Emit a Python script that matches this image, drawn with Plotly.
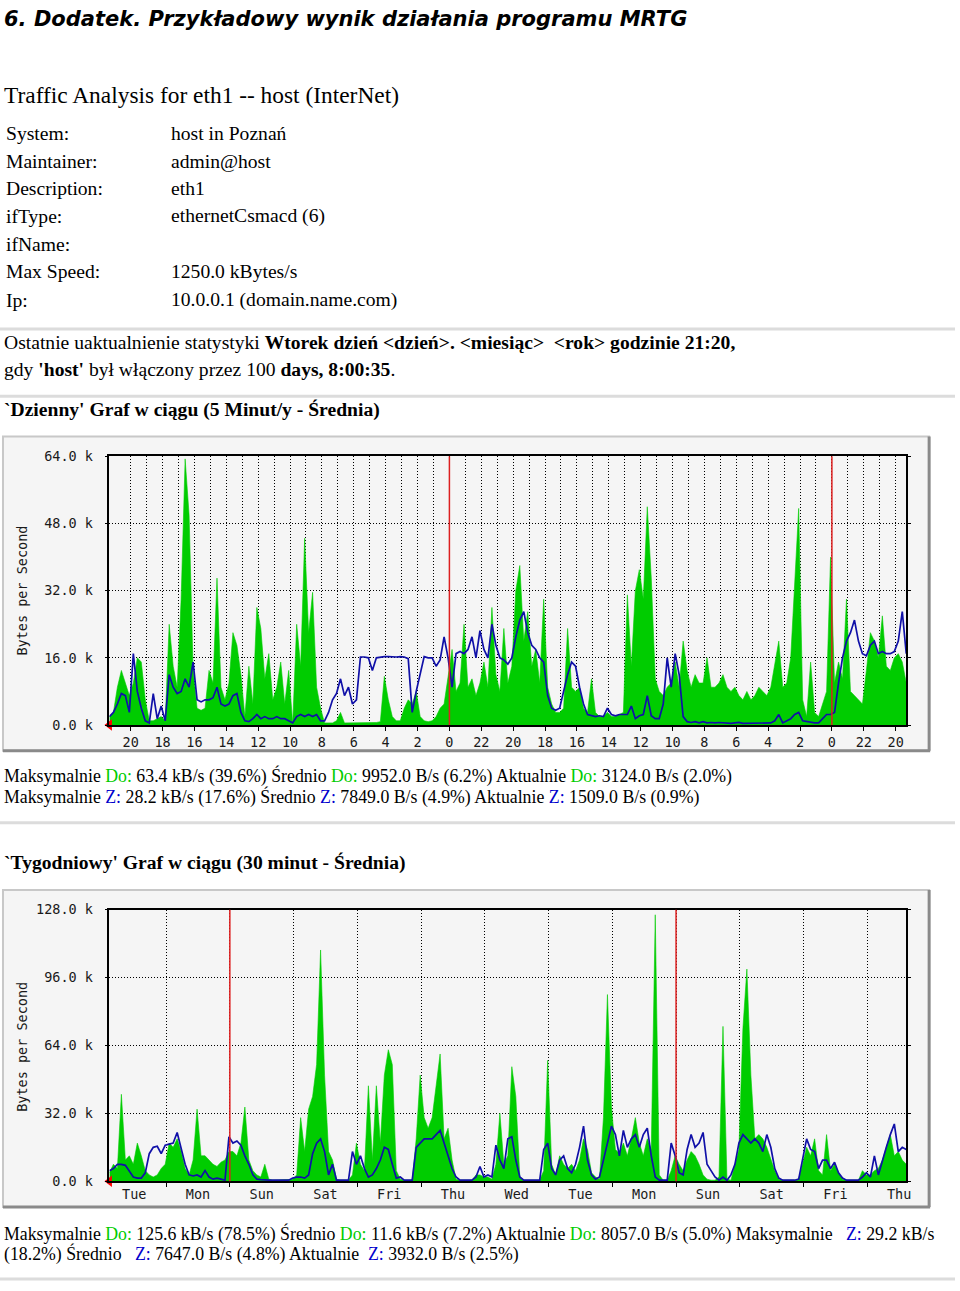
import plotly.graph_objects as go

# ---------------- data (kB/s) ----------------
# daily graph: one sample every 0.25 h, x = hours before 21:20
daily_in = [2, 3, 9, 13, 10, 7, 10, 16, 15, 6,
            1, 1, 1.5, 2, 1, 24, 14, 9, 30, 63.4,
            50, 13, 4, 3.5, 4, 13, 10, 35, 9, 6,
            10, 22, 19, 12, 2, 14, 5, 28, 23, 11,
            17, 6, 9, 15, 5, 13, 0.3, 24, 14, 44.5,
            22, 31.6, 9, 4, 0.5, 0.5, 0.5, 1, 3, 0.5,
            0.5, 0.5, 0.5, 0.5, 0.5, 0.5, 0.6, 0.6, 0.8, 11.6,
            6, 2, 1, 1, 4, 6, 5, 8, 2, 1,
            0.8, 1, 2, 4, 5, 12, 18, 8, 10, 24,
            9, 11, 7, 10, 15, 9, 28, 12, 8, 23,
            10, 14, 32, 38, 20, 27, 14, 18, 10, 30,
            9, 5, 3, 3, 4, 23, 9, 8, 9, 4,
            3, 11, 3, 2, 2, 3, 2, 2, 2.5, 3,
            31, 14, 32, 37, 30, 52, 35, 11, 8, 7,
            9, 10, 15, 9, 20, 13, 9, 12, 10, 10,
            16, 9, 9, 10, 12, 9, 8, 9, 7, 6,
            8, 6, 7, 9, 8, 7, 9, 15, 20, 9,
            10, 16, 35, 51.6, 6, 2, 15, 3, 2, 5,
            8, 40, 10, 15, 11, 30, 8, 7, 6, 5,
            13, 22, 20, 16, 26, 14, 13, 16, 17, 15,
            10]
daily_out = [2, 3, 5, 7.5, 7, 3, 17, 8, 4, 1,
             0.5, 7.5, 1.5, 4.5, 1, 12, 9, 7.5, 8, 11,
             9, 15, 6, 5.5, 6, 6, 6.5, 9, 5, 4.5,
             5, 7, 7.5, 3, 1, 0.8, 1.5, 2.5, 1.5, 2,
             1.5, 1.5, 2, 1.5, 1.5, 1, 0.5, 2, 2.5, 2,
             2.5, 2, 2.5, 1, 1, 3, 6, 7.5, 11, 7,
             9, 5, 6, 16.2, 16.2, 16, 13, 16, 16.2, 16.3,
             16.3, 16.2, 16.2, 16.3, 16.2, 15.8, 3, 8, 12, 16.3,
             16, 16, 14, 15.5, 21, 16, 9, 17, 17.5, 17,
             18, 21, 16, 22.5, 18, 16, 24, 19, 16, 15.5,
             14.5, 16, 21, 25, 27, 22, 19, 18, 16, 15,
             7, 4, 3.5, 4, 8, 12, 15, 14, 9, 5,
             2.5, 2.2, 2, 2.2, 2, 4, 2.5, 2.2, 2.5, 2.5,
             2.5, 4.5, 1.5, 2.2, 2.5, 7, 2.2, 1.5, 1.5, 5,
             16, 9, 17, 12, 2, 0.8, 0.6, 0.8, 0.5, 0.8,
             0.5, 0.6, 0.5, 0.6, 0.5, 0.5, 0.4, 0.5, 0.6, 0.4,
             0.4, 0.4, 0.5, 0.4, 0.4, 0.4, 0.5, 1, 2.5, 0.5,
             1, 1.5, 2.5, 3, 1, 0.8, 0.6, 0.5, 0.5, 1.5,
             2.5, 2.5, 3, 10, 16, 20, 22, 25, 20, 17,
             16.5, 19, 20, 17, 17.5, 17, 17, 17.5, 20, 27,
             17]
# weekly graph: one sample every 1.5 h, x = hours before Tue 21:20
weekly_in = [4, 8, 6, 41, 10, 12, 8, 18, 12, 5,
             3, 2, 3, 6, 8, 18, 16, 20, 14, 6,
             3, 10, 34, 12, 12, 10, 8, 7, 9, 10,
             14, 14, 12, 18, 35, 10, 5, 3, 2, 8,
             1, 0.5, 0.5, 0.5, 0.5, 0.8, 1, 3, 30, 14,
             34, 40, 55, 109, 50, 14, 10, 1, 0.5, 0.5,
             0.5, 3, 18, 8, 5, 45, 10, 45, 18, 50,
             62, 55, 5, 1, 0.5, 0.5, 0.5, 20, 50, 30,
             25, 30, 45, 60, 20, 25, 10, 1, 0.5, 0.5,
             0.5, 0.5, 3, 3, 2, 2, 1, 8, 32, 8,
             12, 54, 40, 2, 0.5, 0.5, 0.5, 0.5, 0.5, 5,
             57, 8, 3, 12, 8, 6, 8, 5, 10, 20,
             15, 4, 2, 1, 30, 88, 35, 15, 13, 18,
             12, 20, 30, 18, 12, 20, 15, 125.6, 3, 0.5,
             0.5, 5, 12, 8, 5, 10, 14, 12, 8, 3,
             1, 0.5, 0.5, 2, 73, 1, 0.5, 8, 15, 72,
             100, 50, 20, 22, 20, 16, 10, 5, 1, 0.5,
             0.5, 0.5, 0.5, 1, 8, 16, 12, 20, 5, 3,
             22, 5, 8, 4, 1, 0.5, 0.5, 0.5, 0.5, 5,
             3, 3, 5, 6, 10, 16, 22, 12, 14, 10,
             8]
weekly_out = [5, 6, 8, 8, 7.5, 5, 2, 1.5, 1.5, 4,
              13, 16, 16.5, 13, 17, 17.5, 18, 23, 16, 8,
              3, 2.5, 3, 2, 5, 2, 1, 1.5, 1, 0.5,
              21, 18, 19, 17, 12, 8, 3, 1, 0.8, 0.5,
              0.5, 0.5, 0.5, 0.5, 0.5, 0.5, 1.5, 2, 2, 1.5,
              3, 13, 18, 20, 14, 3, 8, 0.5, 0.5, 0.5,
              0.5, 14, 8, 12, 6, 2, 3, 6, 10, 16,
              15, 8, 1.5, 2, 0.5, 0.5, 0.5, 16, 18, 20,
              20, 20, 22, 24, 18, 12, 6, 2, 0.5, 0.5,
              0.5, 0.5, 2, 7, 2, 3, 2, 17, 10, 6,
              20, 21, 10, 2, 0.5, 0.5, 0.5, 0.5, 0.5, 15,
              18, 6, 3, 10, 12, 6, 4, 8, 16, 26,
              10, 3, 1, 2, 10, 18, 26, 22, 12, 24,
              16, 20, 22, 16, 22, 25, 12, 2, 0.5, 0.5,
              0.5, 18, 12, 4, 3, 15, 22, 16, 18, 23,
              8, 5, 2, 0.5, 2, 0.5, 3, 8, 18, 22,
              20, 18, 20, 18, 14, 22, 16, 6, 1.5, 0.5,
              0.5, 0.5, 0.5, 1, 10, 20, 15, 14, 6, 10,
              10, 6, 9, 4, 1.5, 0.5, 0.5, 0.5, 0.5, 2,
              4, 2, 12, 3, 10, 16, 22, 27, 14, 16,
              15]

daily_step_h = 0.25
weekly_step_h = 1.5
now_h = 21 + 20 / 60  # 21:20

daily_tick_labels = ["20", "18", "16", "14", "12", "10", "8", "6", "4", "2", "0",
                     "22", "20", "18", "16", "14", "12", "10", "8", "6", "4", "2", "0",
                     "22", "20"]
daily_y_ticks = [0, 16, 32, 48, 64]
daily_y_labels = ["0.0 k", "16.0 k", "32.0 k", "48.0 k", "64.0 k"]
weekly_day_labels = ["Tue", "Mon", "Sun", "Sat", "Fri", "Thu", "Wed",
                     "Tue", "Mon", "Sun", "Sat", "Fri", "Thu"]
weekly_y_ticks = [0, 32, 64, 96, 128]
weekly_y_labels = ["0.0 k", "32.0 k", "64.0 k", "96.0 k", "128.0 k"]

info_labels = ["System:", "Maintainer:", "Description:", "ifType:", "ifName:", "Max Speed:", "Ip:"]
info_values = ["host in Poznań", "admin@host", "eth1", "ethernetCsmacd (6)", "",
               "1250.0 kBytes/s", "10.0.0.1 (domain.name.com)"]

# ---------------- derived axis positions ----------------
daily_x = [i * daily_step_h for i in range(len(daily_in))]
weekly_x = [i * weekly_step_h for i in range(len(weekly_in))]
daily_tick_pos = [(now_h - 20) + 2 * k for k in range(len(daily_tick_labels))]
daily_minor_pos = [p + 1 for p in daily_tick_pos[:-1]]
daily_midnights = [now_h, now_h + 24]
weekly_grid_pos = [now_h + 24 * k for k in range(12)]
weekly_label_pos = [now_h - 12 + 24 * k for k in range(len(weekly_day_labels))]
weekly_week_marks = [now_h + 24, now_h + 24 * 8]

W, H = 960, 1291
def px(x):
    return x / W
def py(y):
    return 1 - y / H

GREEN = "#00cc00"
BLUE = "#1010a8"
RED = "#dd2020"
SERIF = "Liberation Serif"
MONO = "DejaVu Sans Mono"

fig = go.Figure()

# daily
fig.add_trace(go.Scatter(x=daily_x, y=daily_in, xaxis="x", yaxis="y", mode="lines",
                         fill="tozeroy", fillcolor=GREEN, line=dict(color=GREEN, width=0.6),
                         hoverinfo="skip", showlegend=False))
fig.add_trace(go.Scatter(x=daily_x, y=daily_out, xaxis="x", yaxis="y", mode="lines",
                         line=dict(color=BLUE, width=1.7), hoverinfo="skip", showlegend=False))
fig.add_trace(go.Scatter(x=[0], y=[0], xaxis="x", yaxis="y", mode="markers",
                         marker=dict(symbol="triangle-left", color="red", size=10),
                         cliponaxis=False, hoverinfo="skip", showlegend=False))
# weekly
fig.add_trace(go.Scatter(x=weekly_x, y=weekly_in, xaxis="x2", yaxis="y2", mode="lines",
                         fill="tozeroy", fillcolor=GREEN, line=dict(color=GREEN, width=0.6),
                         hoverinfo="skip", showlegend=False))
fig.add_trace(go.Scatter(x=weekly_x, y=weekly_out, xaxis="x2", yaxis="y2", mode="lines",
                         line=dict(color=BLUE, width=1.7), hoverinfo="skip", showlegend=False))
fig.add_trace(go.Scatter(x=[0], y=[0], xaxis="x2", yaxis="y2", mode="markers",
                         marker=dict(symbol="triangle-left", color="red", size=10),
                         cliponaxis=False, hoverinfo="skip", showlegend=False))

tickfont = dict(family=MONO, size=13.5, color="#1a1a1a")
grid = dict(showgrid=True, gridcolor="black", griddash="1px,2px", gridwidth=1)

def xaxis(domain_px, rng, anchor):
    return dict(domain=[px(domain_px[0]), px(domain_px[1])], range=rng, anchor=anchor,
                showline=True, linecolor="black", linewidth=2, mirror=True,
                zeroline=False, tickfont=tickfont, fixedrange=True)

def yaxis(domain_py, rng, anchor, tv, tt):
    return dict(domain=[py(domain_py[0]), py(domain_py[1])], range=rng, anchor=anchor,
                tickmode="array", tickvals=tv, ticktext=tt, ticks="outside", ticklen=3,
                tickcolor="black", showline=True, linecolor="black", linewidth=1.5,
                mirror="ticks", zeroline=False, tickfont=tickfont, ticklabelstandoff=9,
                fixedrange=True, **grid)

xa = xaxis((110, 911), [0, 50], "y")
xa.update(tickmode="array", tickvals=daily_tick_pos, ticktext=daily_tick_labels,
          ticks="outside", ticklen=4, tickcolor="black",
          minor=dict(tickvals=daily_minor_pos, ticks="", **grid), **grid)
xb = xaxis((110, 911), [0, 300], "y2")
xb.update(tickmode="array", tickvals=weekly_label_pos, ticktext=weekly_day_labels,
          ticks="", showgrid=False,
          minor=dict(tickvals=weekly_grid_pos, ticks="outside", ticklen=4, tickcolor="black", **grid))

fig.update_layout(
    width=W, height=H, margin=dict(l=0, r=0, t=0, b=0),
    paper_bgcolor="white", plot_bgcolor="#f5f5f5",
    xaxis=xa, yaxis=yaxis((726, 454), [0, 64], "x", daily_y_ticks, daily_y_labels),
    xaxis2=xb, yaxis2=yaxis((1188, 913), [0, 128], "x2", weekly_y_ticks, weekly_y_labels),
)

shapes = []
# graph image frames
for (y0, y1) in [(434, 752), (893, 1214)]:
    shapes.append(dict(type="rect", xref="paper", yref="paper", x0=px(3), x1=px(934),
                       y0=py(y1), y1=py(y0), fillcolor="#f5f5f5",
                       line=dict(color="#c8c8c8", width=2), layer="below"))
    shapes.append(dict(type="line", xref="paper", yref="paper", x0=px(934), x1=px(934),
                       y0=py(y1), y1=py(y0), line=dict(color="#8a8a8a", width=3), layer="below"))
    shapes.append(dict(type="line", xref="paper", yref="paper", x0=px(3), x1=px(935),
                       y0=py(y1), y1=py(y1), line=dict(color="#8a8a8a", width=3), layer="below"))
# horizontal rules
for yy in [325, 393, 825, 1287]:
    shapes.append(dict(type="line", xref="paper", yref="paper", x0=0, x1=1,
                       y0=py(yy), y1=py(yy), line=dict(color="#dcdcdc", width=3)))
# midnight / week marks
for xm in daily_midnights:
    shapes.append(dict(type="line", xref="x", yref="y domain", x0=xm, x1=xm, y0=0, y1=1,
                       line=dict(color=RED, width=1.5)))
for xm in weekly_week_marks:
    shapes.append(dict(type="line", xref="x2", yref="y2 domain", x0=xm, x1=xm, y0=0, y1=1,
                       line=dict(color=RED, width=1.5)))
fig.update_layout(shapes=shapes)

def text(x, y, s, size, family=SERIF, **kw):
    fig.add_annotation(x=px(x), y=py(y), xref="paper", yref="paper", text=s,
                       showarrow=False, xanchor="left", yanchor="middle",
                       font=dict(family=family, size=size, color="black"), **kw)

text(2, 11, "<b><i>6. Dodatek. Przykładowy wynik działania programu MRTG</i></b>", 21, family="DejaVu Sans")
text(2, 88, "Traffic Analysis for eth1 -- host (InterNet)", 23.4)
row_y = [127, 155, 183, 211, 239, 267, 296]
for lab, val, yy in zip(info_labels, info_values, row_y):
    text(4, yy, lab, 19.6)
    if val:
        text(170, yy, val, 19.6)

text(2, 339, "Ostatnie uaktualnienie statystyki <b>Wtorek dzień &lt;dzień&gt;. &lt;miesiąc&gt;\u00a0 &lt;rok&gt; godzinie 21:20,</b>", 19.6)
text(2, 366, "gdy <b>'host'</b> był włączony przez 100 <b>days, 8:00:35</b>.", 19.6)
text(2, 407, "<b>`Dzienny' Graf w ciągu (5 Minut/y - Średnia)</b>", 19.6)

G = f"<span style='color:{GREEN}'>Do:</span>"
B = f"<span style='color:#0000cc'>Z:</span>"
text(2, 778, f"Maksymalnie {G} 63.4 kB/s (39.6%) Średnio {G} 9952.0 B/s (6.2%) Aktualnie {G} 3124.0 B/s (2.0%)", 17.8)
text(2, 799, f"Maksymalnie {B} 28.2 kB/s (17.6%) Średnio {B} 7849.0 B/s (4.9%) Aktualnie {B} 1509.0 B/s (0.9%)", 17.8)
text(2, 866, "<b>`Tygodniowy' Graf w ciągu (30 minut - Średnia)</b>", 19.6)
text(2, 1241, f"Maksymalnie {G} 125.6 kB/s (78.5%) Średnio {G} 11.6 kB/s (7.2%) Aktualnie {G} 8057.0 B/s (5.0%) Maksymalnie\u00a0\u00a0 {B} 29.2 kB/s", 17.8)
text(2, 1262, f"(18.2%) Średnio\u00a0\u00a0 {B} 7647.0 B/s (4.8%) Aktualnie\u00a0 {B} 3932.0 B/s (2.5%)", 17.8)

for yc in [590, 1052]:
    fig.add_annotation(x=px(22), y=py(yc), xref="paper", yref="paper", text="Bytes per Second",
                       showarrow=False, textangle=-90, xanchor="center", yanchor="middle",
                       font=dict(family=MONO, size=13.5, color="#1a1a1a"))

fig.write_html("out.html")
